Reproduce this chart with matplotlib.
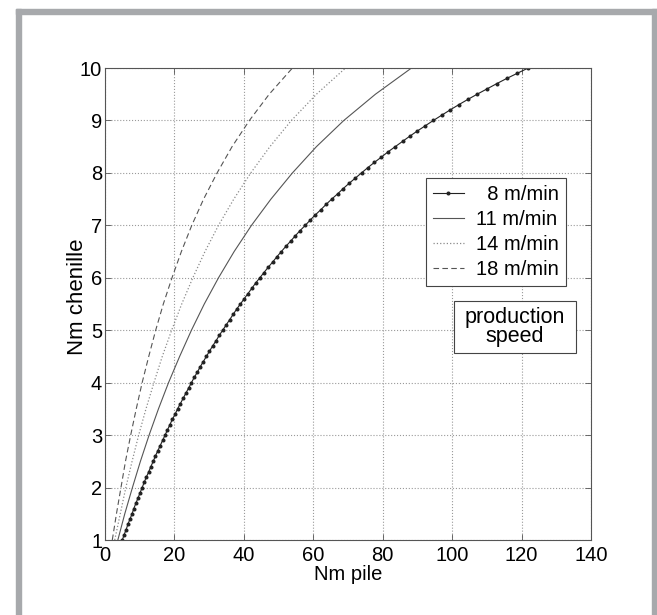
import numpy as np
import matplotlib
matplotlib.use("Agg")
import matplotlib.pyplot as plt
from matplotlib.patches import Rectangle

plt.rcParams['font.family'] = ['Liberation Sans', 'DejaVu Sans']

# Nm chenille (y) and the Nm pile (x)
chen_8 = [1.0, 1.1, 1.2, 1.3, 1.4, 1.5, 1.6, 1.7, 1.8, 1.9,
          2.0, 2.1, 2.2, 2.3, 2.4, 2.5, 2.6, 2.7, 2.8, 2.9,
          3.0, 3.1, 3.2, 3.3, 3.4, 3.5, 3.6, 3.7, 3.8, 3.9,
          4.0, 4.1, 4.2, 4.3, 4.4, 4.5, 4.6, 4.7, 4.8, 4.9,
          5.0, 5.1, 5.2, 5.3, 5.4, 5.5, 5.6, 5.7, 5.8, 5.9,
          6.0, 6.1, 6.2, 6.3, 6.4, 6.5, 6.6, 6.7, 6.8, 6.9,
          7.0, 7.1, 7.2, 7.3, 7.4, 7.5, 7.6, 7.7, 7.8, 7.9,
          8.0, 8.1, 8.2, 8.3, 8.4, 8.5, 8.6, 8.7, 8.8, 8.9,
          9.0, 9.1, 9.2, 9.3, 9.4, 9.5, 9.6, 9.7, 9.8, 9.9, 10.0]
pile_8 = [5.0, 5.5, 6.1, 6.6, 7.2, 7.8, 8.3, 8.9, 9.5, 10.1,
          10.7, 11.3, 11.9, 12.6, 13.2, 13.9, 14.5, 15.2, 15.9, 16.6,
          17.3, 18.0, 18.7, 19.4, 20.2, 20.9, 21.7, 22.5, 23.3, 24.1,
          24.9, 25.7, 26.6, 27.4, 28.3, 29.2, 30.1, 31.0, 32.0, 32.9,
          33.9, 34.9, 35.9, 36.9, 37.9, 39.0, 40.1, 41.2, 42.3, 43.4,
          44.6, 45.8, 47.0, 48.3, 49.5, 50.8, 52.1, 53.5, 54.8, 56.2,
          57.7, 59.1, 60.6, 62.2, 63.7, 65.3, 67.0, 68.6, 70.3, 72.1,
          73.9, 75.7, 77.6, 79.6, 81.5, 83.6, 85.7, 87.8, 90.0, 92.3,
          94.6, 97.0, 99.4, 101.9, 104.5, 107.2, 110.0, 112.8, 115.7, 118.8, 121.9]

chen = [1.0, 1.5, 2.0, 2.5, 3.0, 3.5, 4.0, 4.5, 5.0, 5.5,
        6.0, 6.5, 7.0, 7.5, 8.0, 8.5, 9.0, 9.5, 10.0]
pile_11 = [3.7, 5.7, 7.9, 10.2, 12.7, 15.4, 18.3, 21.5, 24.9, 28.6,
           32.7, 37.2, 42.2, 47.8, 54.0, 60.9, 68.8, 77.9, 88.3]
pile_14 = [2.8, 4.4, 6.0, 7.8, 9.7, 11.8, 14.1, 16.5, 19.2, 22.1,
           25.3, 28.8, 32.7, 37.1, 42.0, 47.5, 53.7, 60.9, 69.3]
pile_18 = [2.1, 3.3, 4.6, 5.9, 7.4, 9.0, 10.7, 12.6, 14.6, 16.8,
           19.3, 22.0, 25.0, 28.4, 32.3, 36.6, 41.6, 47.3, 54.0]

xticks = [0, 20, 40, 60, 80, 100, 120, 140]
yticks = [1, 2, 3, 4, 5, 6, 7, 8, 9, 10]

fig = plt.figure(figsize=(6.57, 6.15), dpi=100)

# grey frame around the figure (top, left, right)
frame = '#a7a9ac'
fig.patches.append(Rectangle((16/657, 0), 5/657, 606/615, transform=fig.transFigure, color=frame))
fig.patches.append(Rectangle((16/657, 601/615), 641/657, 5/615, transform=fig.transFigure, color=frame))
fig.patches.append(Rectangle((652/657, 0), 5/657, 606/615, transform=fig.transFigure, color=frame))

ax = fig.add_axes([105/657, 75/615, 486/657, 472/615])

ax.plot(pile_8, chen_8, '-', color='#222222', lw=0.8, marker='.', markersize=3.8, label='  8 m/min')
ax.plot(pile_11, chen, '-', color='#555555', lw=0.8, label='11 m/min')
ax.plot(pile_14, chen, ':', color='#8a8a8a', lw=0.9, label='14 m/min')
ax.plot(pile_18, chen, '--', color='#555555', lw=0.8, dashes=(5, 3), label='18 m/min')

ax.set_xlim(0, 140)
ax.set_ylim(1, 10)
ax.set_xticks(xticks)
ax.set_yticks(yticks)
ax.tick_params(direction='in', length=4, width=0.6, color='#555555', labelsize=14.5,
               top=True, right=True)
ax.tick_params(axis='x', pad=4)
ax.tick_params(axis='y', pad=2)
ax.grid(True, linestyle=':', color='#9a9a9a', lw=0.8)
for s in ax.spines.values():
    s.set_color('#555555')
    s.set_linewidth(0.8)

ax.set_xlabel('Nm pile', fontsize=14.5)
ax.xaxis.set_label_coords(0.5, -0.054)
ax.set_ylabel('Nm chenille', fontsize=16)
ax.yaxis.set_label_coords(-0.036, 0.515)

leg = ax.legend(loc='upper right', bbox_to_anchor=(0.9486, 0.767), borderaxespad=0,
                fontsize=14.5, fancybox=False, framealpha=1, edgecolor='#444444',
                handlelength=1.55, labelspacing=0.3, borderpad=0.35, handletextpad=0.6)
leg.get_frame().set_linewidth(0.8)

# "production speed" box
ax.add_patch(Rectangle((0.718, 0.396), 0.251, 0.110, transform=ax.transAxes,
                       fc='white', ec='#444444', lw=0.8, zorder=5))
ax.text(0.8436, 0.451, 'production\nspeed', transform=ax.transAxes, ha='center', va='center',
        fontsize=15.5, linespacing=0.85, zorder=6)

fig.savefig('out.png', dpi=100)
